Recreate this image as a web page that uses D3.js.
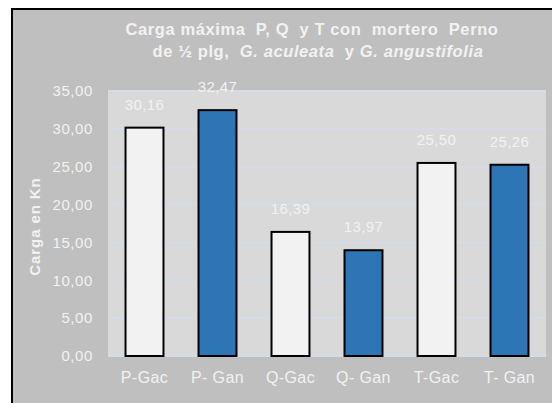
<!DOCTYPE html>
<html>
<head>
<meta charset="utf-8">
<script src="https://cdn.jsdelivr.net/npm/d3@7"></script>
<style>
  html, body { margin: 0; padding: 0; background: #fff; }
  svg { display: block; font-family: "Liberation Sans", Arial, sans-serif; }
  svg text { white-space: pre; }
</style>
</head>
<body>
<div id="chart"></div>
<script>
const categories = ["P-Gac", "P- Gan", "Q-Gac", "Q- Gan", "T-Gac", "T- Gan"];
const values = [30.16, 32.47, 16.39, 13.97, 25.50, 25.26];
const species = ["Gac", "Gan", "Gac", "Gan", "Gac", "Gan"];
const yTicks = [0, 5, 10, 15, 20, 25, 30, 35];

const W = 552, H = 403;
const plot = { left: 108, right: 546, top: 91, bottom: 356 };
const fmt = v => v.toFixed(2).replace(".", ",");
const fill = { Gac: "#f2f2f2", Gan: "#2e75b6" };
const txt = "#f2f2f2";

const svg = d3.select("#chart").append("svg")
    .attr("width", W).attr("height", H);

// frame
svg.append("rect").attr("x", 12).attr("y", 9).attr("width", W).attr("height", H)
    .attr("fill", "#bfbfbf").attr("stroke", "#000").attr("stroke-width", 2);

// title
const title = svg.append("text")
    .attr("text-anchor", "middle")
    .attr("fill", txt)
    .attr("font-weight", "bold")
    .attr("font-size", 16.5)
    .attr("letter-spacing", 0.6);
title.append("tspan").attr("x", 312).attr("y", 35)
    .text("Carga máxima  P, Q  y T con  mortero  Perno");
const l2 = title.append("tspan").attr("x", 318).attr("y", 57);
l2.append("tspan").text("de ½ plg,  ");
l2.append("tspan").attr("font-style", "italic").text("G. aculeata");
l2.append("tspan").text("  y ");
l2.append("tspan").attr("font-style", "italic").text("G. angustifolia");

const x = d3.scaleBand().domain(categories)
    .range([plot.left, plot.right]).paddingInner(0.48).paddingOuter(0.24);
const y = d3.scaleLinear().domain([0, 35]).range([plot.bottom, plot.top]);

// plot area
svg.append("rect")
    .attr("x", plot.left).attr("y", plot.top)
    .attr("width", plot.right - plot.left).attr("height", plot.bottom - plot.top)
    .attr("fill", "#d9d9d9");

// gridlines
svg.append("g").selectAll("line").data(yTicks).join("line")
    .attr("x1", plot.left).attr("x2", plot.right)
    .attr("y1", d => y(d)).attr("y2", d => y(d))
    .attr("stroke", "#d6dce5").attr("stroke-width", 2);

// y axis labels
const yAxis = svg.append("g").attr("transform", `translate(${plot.left},0)`)
    .call(d3.axisLeft(y).tickValues(yTicks).tickFormat(fmt).tickSize(0).tickPadding(15));
yAxis.select(".domain").remove();
yAxis.selectAll("text").attr("fill", txt).attr("font-size", 15).attr("letter-spacing", 0.6)
    .attr("font-family", "Liberation Sans, Arial, sans-serif");

// bars
svg.append("g").selectAll("rect").data(categories).join("rect")
    .attr("x", d => x(d))
    .attr("y", (d, i) => y(values[i]))
    .attr("width", x.bandwidth())
    .attr("height", (d, i) => y(0) - y(values[i]))
    .attr("fill", (d, i) => fill[species[i]])
    .attr("stroke", "#000").attr("stroke-width", 2);

// value labels
svg.append("g").selectAll("text").data(categories).join("text")
    .attr("x", d => x(d) + x.bandwidth() / 2)
    .attr("y", (d, i) => y(values[i]) - 18)
    .attr("text-anchor", "middle")
    .attr("fill", txt).attr("font-size", 15).attr("letter-spacing", 0.4)
    .text((d, i) => fmt(values[i]));

// x axis labels
const xAxis = svg.append("g").attr("transform", `translate(0,${plot.bottom})`)
    .call(d3.axisBottom(x).tickSize(0).tickPadding(16));
xAxis.select(".domain").remove();
xAxis.selectAll("text").attr("fill", txt).attr("font-size", 16).attr("letter-spacing", 0.4)
    .attr("font-family", "Liberation Sans, Arial, sans-serif");

// y axis title
svg.append("text")
    .attr("transform", `translate(40,${(plot.top + plot.bottom) / 2 + 3}) rotate(-90)`)
    .attr("text-anchor", "middle")
    .attr("fill", txt).attr("font-weight", "bold").attr("font-size", 15).attr("letter-spacing", 0.9)
    .text("Carga en Kn");
</script>
</body>
</html>
